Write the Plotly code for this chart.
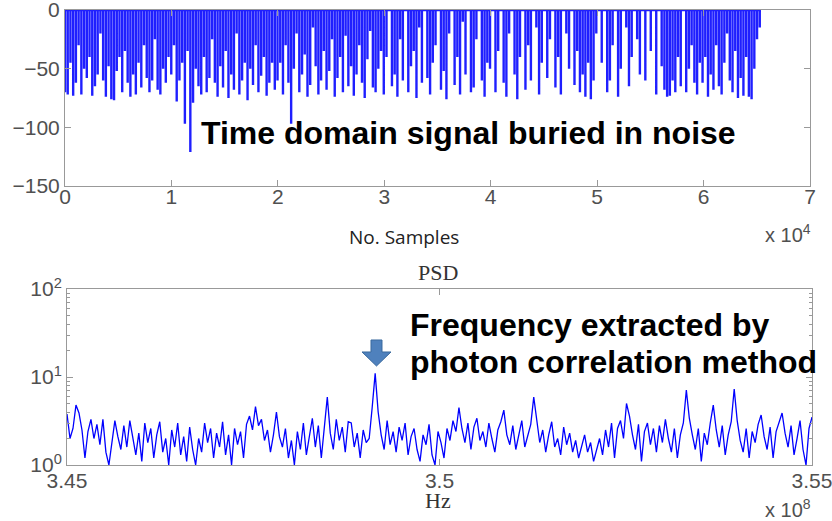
import plotly.graph_objects as go

# ---------------- data ----------------
# Time-domain signal: spike depths (positive = downward) every 256 samples
sample_step = 256
spike_depth = [
    # 0 - 1e4
    70, 72, 45, 73, 62, 30, 72, 50, 58, 40, 73, 65, 55, 20, 60, 74, 48, 76, 77, 52,
    40, 70, 35, 62, 74, 55, 72, 45, 66, 30, 58, 70, 60, 25, 68, 72, 50, 62, 40,
    # 1e4 - 2e4
    55, 30, 78, 60, 45, 97, 35, 121, 79, 50, 65, 72, 40, 70, 58, 25, 62, 74, 48, 66,
    35, 75, 55, 68, 20, 72, 60, 45, 77, 50, 64, 30, 70, 56, 40, 73, 62, 45, 68,
    # 2e4 - 3e4
    60, 45, 72, 30, 62, 97, 50, 20, 70, 55, 38, 74, 64, 15, 48, 72, 60, 35, 68, 52,
    25, 74, 58, 40, 70, 22, 65, 48, 73, 55, 30, 62, 75, 42, 18, 66, 70, 50, 35,
    # 3e4 - 4e4
    72, 40, 0, 65, 55, 74, 25, 60, 0, 70, 48, 35, 75, 15, 62, 0, 58, 72, 45, 30,
    0, 68, 52, 76, 20, 0, 64, 40, 72, 10, 55, 0, 70, 66, 25, 0, 60, 74, 45,
    # 4e4 - 5e4
    50, 0, 70, 35, 0, 62, 74, 20, 0, 55, 76, 40, 0, 68, 30, 60, 0, 15, 72, 45,
    0, 58, 25, 0, 66, 40, 72, 0, 20, 50, 0, 64, 35, 70, 55, 74, 45, 76, 60,
    # 5e4 - 6e4
    20, 0, 45, 0, 70, 60, 30, 0, 74, 50, 0, 15, 65, 40, 0, 25, 55, 0, 60, 0,
    35, 0, 72, 0, 48, 68, 74, 73, 60, 70, 40, 65, 0, 70, 50, 30, 62, 72, 45,
    # 6e4 - 6.55e4
    62, 40, 74, 55, 68, 30, 65, 72, 45, 20, 60, 70, 35, 75, 58, 73, 40, 74, 76, 50,
    25, 15,
]

# PSD values between 3.45e8 and 3.55e8 Hz
freq_start = 3.45e8
freq_stop = 3.55e8
psd_values = [
    3.8, 2.0, 2.6, 4.8, 3.9, 2.5, 1.2, 2.4, 3.3, 2.0,
    2.9, 1.7, 3.3, 1.4, 1.0, 1.9, 3.2, 2.1, 1.5, 2.8,
    1.6, 3.2, 2.0, 1.3, 2.3, 1.1, 3.0, 1.8, 2.6, 1.2,
    2.2, 3.1, 1.4, 2.0, 1.0, 2.5, 1.6, 3.0, 1.3, 2.1,
    1.1, 2.7, 1.5, 1.0, 2.0, 1.4, 3.0, 1.8, 2.6, 1.2,
    2.3, 1.6, 3.1, 1.3, 2.2, 1.0, 2.6, 1.7, 2.4, 1.2,
    2.9, 3.6, 2.5, 4.6, 2.8, 3.3, 1.9, 2.5, 1.4, 2.2,
    4.0, 2.1, 1.6, 2.6, 1.2, 1.9, 1.0, 2.4, 1.5, 3.0,
    1.3, 2.2, 3.4, 1.6, 2.8, 1.2, 2.6, 5.9, 2.3, 1.5,
    3.3, 1.9, 2.7, 1.4, 3.1, 3.0, 1.6, 2.3, 1.2, 2.5,
    1.8, 2.0, 4.5, 11.0, 4.0, 2.2, 1.5, 3.2, 1.7, 2.4,
    1.4, 2.7, 1.9, 3.0, 1.3, 2.1, 2.6, 1.5, 1.1, 2.2,
    1.7, 2.9, 1.3, 1.0, 2.4, 1.8, 1.2, 2.6, 1.9, 3.2,
    2.4, 4.5, 2.6, 1.8, 3.0, 1.5, 2.7, 3.4, 1.9, 2.4,
    1.6, 3.0, 2.0, 1.4, 2.5, 3.1, 4.2, 2.2, 1.7, 2.8,
    1.5, 2.3, 3.2, 1.6, 2.1, 2.9, 5.9, 3.0, 1.8, 2.5,
    1.4, 2.2, 3.1, 1.6, 2.0, 1.3, 2.7, 1.7, 2.3, 1.4,
    1.9, 1.2, 1.6, 2.2, 1.4, 1.8, 1.1, 1.5, 2.0, 1.3,
    2.5, 1.6, 3.0, 1.2, 2.6, 3.2, 2.0, 5.0, 3.6, 2.2,
    1.5, 2.9, 1.1, 2.4, 3.0, 1.7, 2.6, 1.4, 2.8, 1.8,
    3.3, 2.0, 1.4, 2.6, 1.2, 2.2, 3.0, 7.1, 3.4, 2.2,
    1.5, 2.6, 1.1, 2.3, 1.7, 3.0, 4.8, 2.5, 1.6, 2.8,
    1.3, 2.2, 3.1, 7.3, 3.2, 1.9, 1.4, 2.6, 1.2, 2.4,
    1.8, 2.9, 3.7, 2.1, 1.5, 2.7, 1.2, 2.4, 3.0, 3.9,
    2.3, 1.6, 2.8, 1.3, 2.0, 3.2, 1.5, 1.0, 2.6, 3.5,
]

top_xtick_vals = [0, 10000, 20000, 30000, 40000, 50000, 60000, 70000]
top_xtick_text = ["0", "1", "2", "3", "4", "5", "6", "7"]
top_ytick_vals = [0, -50, -100, -150]
bot_xtick_vals = [3.45e8, 3.5e8, 3.55e8]
bot_xtick_text = ["3.45", "3.5", "3.55"]
bot_ytick_vals = [1, 10, 100]
bot_ytick_text = ["10<sup>0</sup>", "10<sup>1</sup>", "10<sup>2</sup>"]

# ---------------- build traces ----------------
sx, sy = [], []
for i, d in enumerate(spike_depth):
    s = i * sample_step
    sx += [s, s, s]
    sy += [0, -d, 0]

n = len(psd_values)
freqs = [freq_start + (freq_stop - freq_start) * k / (n - 1) for k in range(n)]

W, H = 832, 521
def px(x):
    return x / W
def py(y):
    return 1 - y / H

fig = go.Figure()
fig.add_trace(go.Scatter(x=sx, y=sy, mode="lines",
                         line=dict(color="rgba(0,0,255,0.88)", width=2.4),
                         xaxis="x", yaxis="y", showlegend=False, hoverinfo="skip"))
fig.add_trace(go.Scatter(x=freqs, y=psd_values, mode="lines",
                         line=dict(color="#0000ff", width=1.3),
                         xaxis="x2", yaxis="y2", showlegend=False))

tick_font = dict(family="Liberation Sans, Arial, sans-serif", size=21, color="#505050")
axis_common = dict(showline=True, linecolor="#999999", linewidth=1, mirror="ticks",
                   ticks="inside", ticklen=6, tickcolor="#999999", showgrid=False,
                   zeroline=False, tickfont=tick_font, automargin=False,
                   ticklabeloverflow="allow")

fig.update_layout(
    width=W, height=H,
    margin=dict(l=0, r=0, t=0, b=0),
    paper_bgcolor="white", plot_bgcolor="white",
    xaxis=dict(domain=[px(65), px(810)], range=[0, 70000], anchor="y",
               tickvals=top_xtick_vals, ticktext=top_xtick_text, ticklabelstandoff=-8,
               **axis_common),
    yaxis=dict(domain=[py(186), py(10)], range=[-150, 0], anchor="x",
               tickvals=top_ytick_vals, **axis_common),
    xaxis2=dict(domain=[px(67), px(812)], range=[freq_start, freq_stop], anchor="y2",
                tickvals=bot_xtick_vals, ticktext=bot_xtick_text, ticklabelstandoff=-3,
                **axis_common),
    yaxis2=dict(domain=[py(465), py(289)], type="log", range=[0, 2], anchor="x2",
                tickvals=bot_ytick_vals, ticktext=bot_ytick_text,
                minor=dict(ticks="inside", ticklen=3, tickcolor="#999999",
                           tickvals=[2, 3, 4, 5, 6, 7, 8, 9, 20, 30, 40, 50, 60, 70, 80, 90]),
                **axis_common),
)

label_font = dict(family="Open Sans, Liberation Sans, sans-serif", size=19, color="#222222")
serif_font = dict(family="Liberation Serif, DejaVu Serif, serif", size=22, color="#333333")
big_font = dict(family="Liberation Sans, Arial, sans-serif", size=32, color="black")
mult_font = dict(family="Liberation Sans, Arial, sans-serif", size=20, color="#505050")

annotations = [
    dict(text="<b>Time domain signal buried in noise</b>", x=px(199), y=py(133),
         xanchor="left", yanchor="middle", font=big_font),
    dict(text="<b>Frequency extracted by</b>", x=px(408), y=py(325),
         xanchor="left", yanchor="middle", font=big_font),
    dict(text="<b>photon correlation method</b>", x=px(408), y=py(362),
         xanchor="left", yanchor="middle", font=big_font),
    dict(text="No. Samples", x=px(404), y=py(237), xanchor="center", yanchor="middle",
         font=label_font),
    dict(text="x 10<sup>4</sup>", x=px(788), y=py(233), xanchor="center", yanchor="middle",
         font=mult_font),
    dict(text="PSD", x=px(438), y=py(272), xanchor="center", yanchor="middle",
         font=serif_font),
    dict(text="Hz", x=px(438), y=py(500), xanchor="center", yanchor="middle",
         font=serif_font),
    dict(text="x 10<sup>8</sup>", x=px(788), y=py(508), xanchor="center", yanchor="middle",
         font=mult_font),
]
for a in annotations:
    a.update(xref="paper", yref="paper", showarrow=False)
fig.update_layout(annotations=annotations)

# block arrow pointing at the peak
arrow_pts = [(371, 340), (382, 340), (382, 352), (391, 352), (376.5, 366),
             (362, 352), (371, 352)]
path = "M " + " L ".join(f"{px(x):.5f},{py(y):.5f}" for x, y in arrow_pts) + " Z"
fig.add_shape(type="path", path=path, xref="paper", yref="paper",
              fillcolor="#4F81BD", line=dict(color="#3A6A9E", width=1))

fig.write_html("out.html", config={"displayModeBar": False},
               post_script="document.body.style.margin='0px';document.body.style.overflow='hidden';")
